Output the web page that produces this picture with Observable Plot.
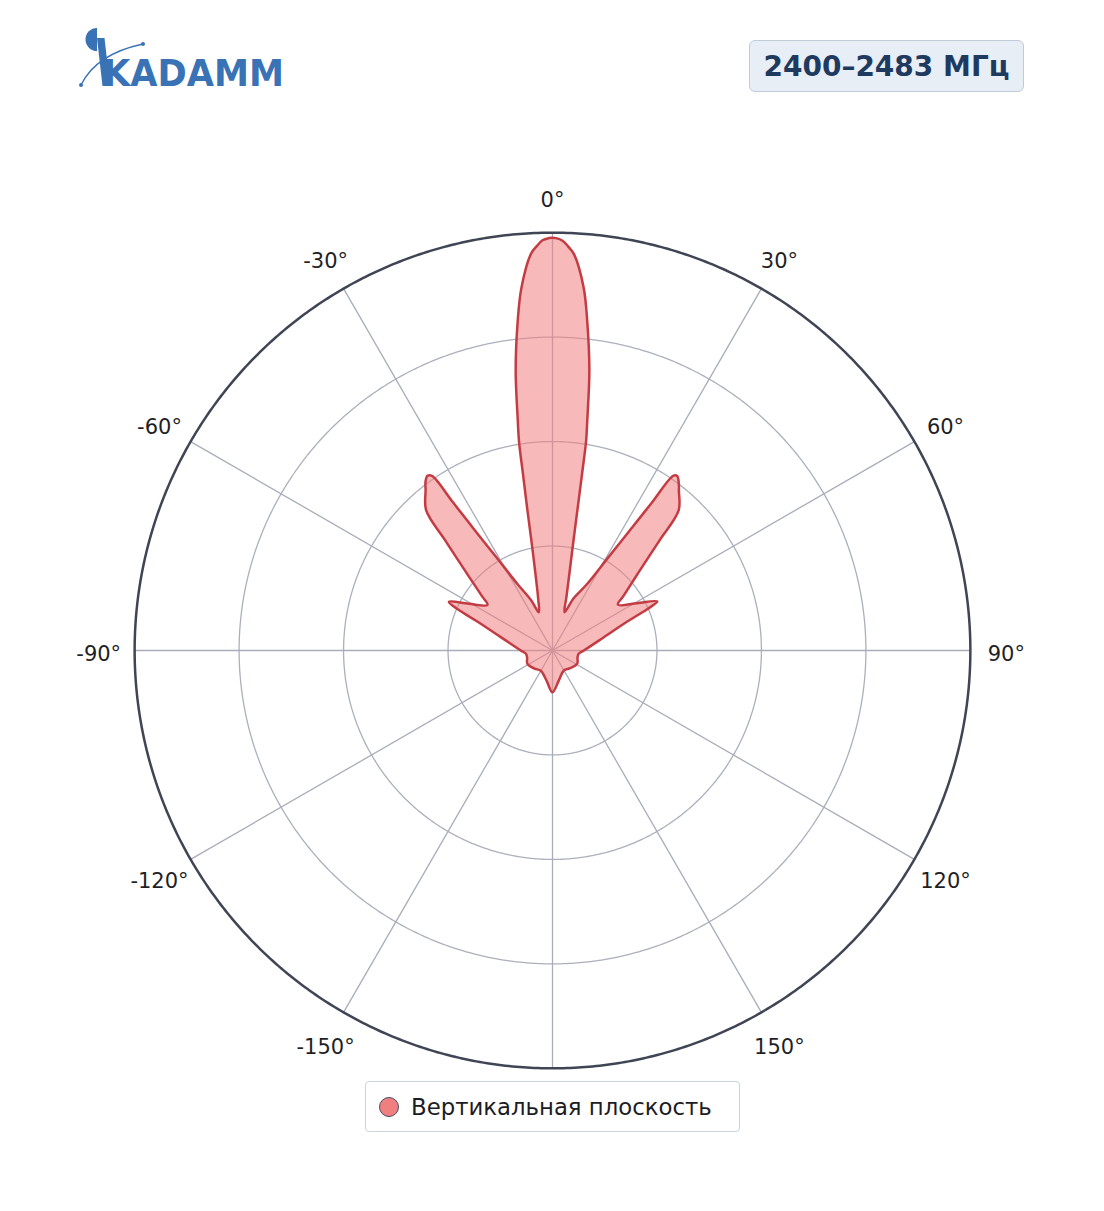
<!DOCTYPE html>
<html>
<head>
<meta charset="utf-8">
<script src="https://cdn.jsdelivr.net/npm/d3@7"></script>
<script src="https://cdn.jsdelivr.net/npm/@observablehq/plot@0.6"></script>
<style>
  html, body { margin: 0; padding: 0; background: #ffffff; }
  body { font-family: "DejaVu Sans", sans-serif; }
  #page { position: relative; width: 1104px; height: 1211px; overflow: hidden; }
  #logo { position: absolute; left: 0; top: 0; }
  #badge {
    position: absolute; left: 749px; top: 40px; width: 275px; height: 52px;
    box-sizing: border-box; border: 1.5px solid #c0cad8; border-radius: 6px;
    background: #e8eef6; color: #1f3a5f; font-weight: bold; font-size: 28px;
    display: flex; align-items: center; justify-content: center;
  }
  #chart { position: absolute; left: 0; top: 120px; }
  #legend {
    position: absolute; left: 365px; top: 1081px; width: 375px; height: 51px;
    box-sizing: border-box; border: 1.5px solid #cbd3df; border-radius: 4px;
    background: #fff; display: flex; align-items: center;
    font-size: 22.8px; color: #1c1c24;
  }
  #legend .sw {
    width: 20px; height: 20px; border-radius: 50%; background: #f08080;
    border: 1px solid #4a4a66; margin-left: 13px; margin-right: 12px; box-sizing: border-box;
  }
</style>
</head>
<body>
<div id="page">
  <svg id="logo" width="420" height="110" viewBox="0 0 420 110">
    <path d="M97 28 A11.5 11.5 0 0 0 97 51 Z" fill="#3a72b6"/>
    <path d="M97 38 L104.5 38 L110 86 L102.5 86 Z" fill="#3a72b6"/>
    <path d="M81 85 Q96 54 143 44" fill="none" stroke="#3a72b6" stroke-width="1.4"/>
    <circle cx="81" cy="85" r="2" fill="#3a72b6"/>
    <circle cx="143" cy="44" r="2" fill="#3a72b6"/>
    <text x="103" y="86" font-family="DejaVu Sans" font-weight="bold" font-size="38" fill="#3a72b6" textLength="181" lengthAdjust="spacingAndGlyphs">KADAMM</text>
  </svg>
  <div id="badge">2400–2483 МГц</div>
  <div id="chart"></div>
  <div id="legend"><span class="sw"></span><span>Вертикальная плоскость</span></div>
</div>
<script>
// ---- data (angle in degrees, 0 = top, clockwise; gain normalised 0..1) ----
const angles = [
  -168, -150, -135, -118, -105, -97, -90, -75.5, -68.8, -66.5, -64.8, -60.8, -55, -52.4, -48, -44.2, -42,
  -38.3, -37, -35.6, -34.6, -33.9, -32.9, -31.1, -27.8, -23, -19.7, -15.5, -12.6, -10.9, -10.1, -9.5, -9.1,
  -8.6, -7.5, -6, -4.9, -3.1, -2.2, -1.4, -0.5,
  0, 0.5, 1.4, 2.2, 3.1, 4.9, 6, 7.5, 8.6, 9.1, 9.5, 10, 10.8, 12.4, 14.6, 17.4, 22, 27.3, 30.9, 32.8, 33.9, 34.7,
  35.6, 37.2, 38.3, 42, 44.2, 48, 52.4, 55, 60.8, 64.9, 66.5, 68.8, 75.5, 90, 97, 105, 118, 135, 150.5, 168, 180
];
const gains = [
  0.072, 0.056, 0.061, 0.068, 0.063, 0.064, 0.076, 0.128, 0.195, 0.247, 0.274, 0.229, 0.190, 0.213, 0.276, 0.370, 0.452,
  0.490, 0.505, 0.514, 0.508, 0.428, 0.345, 0.262, 0.180, 0.130, 0.097, 0.128, 0.186, 0.266, 0.346, 0.427, 0.507,
  0.555, 0.675, 0.795, 0.871, 0.951, 0.969, 0.982, 0.987,
  0.988, 0.987, 0.981, 0.968, 0.950, 0.872, 0.794, 0.676, 0.556, 0.509, 0.428, 0.348, 0.268, 0.188, 0.132, 0.096, 0.135, 0.177, 0.259, 0.343, 0.426, 0.509,
  0.513, 0.500, 0.488, 0.451, 0.367, 0.274, 0.215, 0.191, 0.232, 0.277, 0.245, 0.192, 0.127, 0.075, 0.063, 0.062, 0.067, 0.060, 0.055, 0.073, 0.100
];
const ringLevels = [0.25, 0.5, 0.75];
const outerLevel = [1];
const spokeAngles = [0, 30, 60, 90, 120, 150, 180, -150, -120, -90, -60, -30];
const tickAngles = [0, 30, 60, 90, 120, 150, -150, -120, -90, -60, -30];
const tickLabels = ["0°", "30°", "60°", "90°", "120°", "150°", "-150°", "-120°", "-90°", "-60°", "-30°"];
const seriesName = "Вертикальная плоскость";

// ---- polar via azimuthal-equidistant projection centred on the pole ----
const K = 10;                       // degrees of arc per unit of gain
const lon = (a) => 180 - a;         // 0° at top, clockwise
const lat = (r) => 90 - r * K;
const circle = (r) => d3.geoCircle().center([0, 90]).radius(r * K).precision(0.5)();
const labelR = 1.086;

const pts = angles.map((a, i) => ({angle: a, gain: gains[i], series: seriesName}));

const chart = Plot.plot({
  width: 1104,
  height: 1000,
  marginTop: 62,
  marginBottom: 2,
  marginLeft: 84,
  marginRight: 84,
  projection: {
    type: "azimuthal-equidistant",
    rotate: [0, -90],
    domain: circle(1.12)
  },
  style: {fontFamily: "DejaVu Sans, sans-serif", overflow: "visible", background: "transparent"},
  marks: [
    Plot.geo(ringLevels, {geometry: (r) => circle(r), fill: "none", stroke: "#acb0bd", strokeWidth: 1.3}),
    Plot.link(spokeAngles, {x1: (a) => lon(a), y1: 90, x2: (a) => lon(a), y2: lat(1), stroke: "#a9adba", strokeWidth: 1.3}),
    Plot.line(pts, {
      x: (d) => lon(d.angle), y: (d) => lat(d.gain), curve: "catmull-rom-closed",
      fill: "#f08080", fillOpacity: 0.55, stroke: "#c43c43", strokeWidth: 2.5, strokeLinejoin: "round"
    }),
    Plot.geo(outerLevel, {geometry: (r) => circle(r), fill: "none", stroke: "#3f4554", strokeWidth: 2.5}),
    Plot.text(tickAngles, {
      x: (a) => lon(a), y: lat(labelR), text: (a, i) => tickLabels[i],
      dy: 4, fontSize: 21, fill: "#1f1f26"
    })
  ]
});
document.getElementById("chart").appendChild(chart);
</script>
</body>
</html>
